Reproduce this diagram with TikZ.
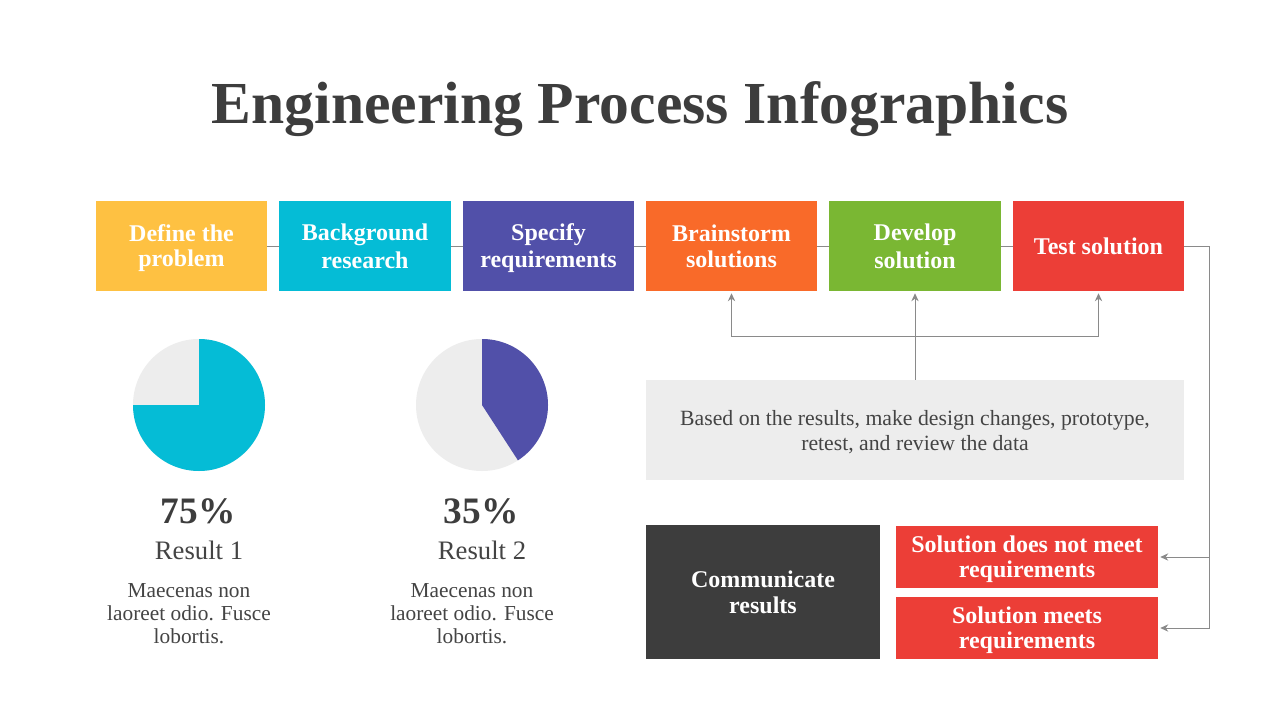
\documentclass[tikz,border=0pt]{standalone}
\usepackage{fontspec}
\setmainfont{Liberation Serif}
\usetikzlibrary{arrows.meta}
\definecolor{cyellow}{HTML}{FEC142}
\definecolor{ccyan}{HTML}{05BCD6}
\definecolor{cpurple}{HTML}{5150A9}
\definecolor{corange}{HTML}{F96A29}
\definecolor{cgreen}{HTML}{7AB733}
\definecolor{cred}{HTML}{EC3E37}
\definecolor{cdark}{HTML}{3D3D3D}
\definecolor{clight}{HTML}{EDEDED}
\definecolor{ctext}{HTML}{444444}
\definecolor{cline}{HTML}{8A8A8A}
% line struts (PowerPoint-like line boxes)
\newcommand\bxs{\rule[-3.4pt]{0pt}{19.2pt}}
\newcommand\txs{\rule[-2.25pt]{0pt}{16.5pt}}
\begin{document}
\begin{tikzpicture}[x=0.75pt,y=-0.75pt,
  boxfont/.style={text=white, font=\bfseries\fontsize{18}{19.2}\selectfont, align=center, inner sep=0pt},
  stepbox/.style={fill=#1, boxfont, minimum width=128.5pt, minimum height=67.5pt},
  redbox/.style={fill=cred, boxfont, minimum width=196.5pt, minimum height=46.5pt},
  conn/.style={draw=cline, line width=0.75pt},
  arr/.style={conn, -{Stealth[length=6pt,width=5.5pt]}, shorten >=1.5pt},
  pct/.style={font=\bfseries\fontsize{28}{30}\selectfont, text=cdark, anchor=base},
  res/.style={font=\fontsize{20}{24}\selectfont, text=ctext, anchor=base},
  body/.style={font=\fontsize{16}{16.3}\selectfont, text=ctext, align=center, inner sep=0pt}]
\useasboundingbox (0,0) rectangle (1280,720);
\fill[white] (0,0) rectangle (1280,720);

\node[font=\bfseries\fontsize{44.7}{50}\selectfont, text=cdark, anchor=base] (title) at (640,124) {Engineering Process Infographics};

% step boxes
\node[stepbox=cyellow] (b1) at (181.5,246) {\bxs Define the\\\bxs problem};
\node[stepbox=ccyan] (b2) at (365,246) {\bxs Background\\\bxs research};
\node[stepbox=cpurple] (b3) at (548.5,246) {\bxs Specify\\\bxs requirements};
\node[stepbox=corange] (b4) at (731.5,246) {\bxs Brainstorm\\\bxs solutions};
\node[stepbox=cgreen] (b5) at (915,246) {\bxs Develop\\\bxs solution};
\node[stepbox=cred] (b6) at (1098.5,246) {\bxs Test solution};

\draw[conn] (b1.east) -- (b2.west);
\draw[conn] (b2.east) -- (b3.west);
\draw[conn] (b3.east) -- (b4.west);
\draw[conn] (b4.east) -- (b5.west);
\draw[conn] (b5.east) -- (b6.west);

% feedback box
\node[fill=clight, text=ctext, font=\fontsize{16.3}{16.5}\selectfont, align=center, inner sep=0pt, minimum width=403.5pt, minimum height=75pt] (g) at (915,430) {\txs Based on the results, make design changes, prototype,\\\txs retest, and review the data};
\coordinate (j) at (915,336);
\draw[arr] (g.north) -- (b5.south);
\draw[arr] (j) -| (b4.south);
\draw[arr] (j) -| (b6.south);

% bottom boxes
\node[fill=cdark, boxfont, minimum width=175.5pt, minimum height=100.5pt] (comm) at (763,592) {\bxs Communicate\\\bxs results};
\node[redbox] (r1) at (1027,557) {\bxs Solution does not meet\\\bxs requirements};
\node[redbox] (r2) at (1027,628) {\bxs Solution meets\\\bxs requirements};
\draw[arr] (b6.east) -- ++(25,0) |- (r1.east);
\draw[arr] (b6.east) -- ++(25,0) |- (r2.east);

% pies
\fill[clight] (199,405) circle (66);
\fill[ccyan] (199,405) -- ++(-90:66) arc (-90:180:66) -- cycle;
\fill[clight] (482,405) circle (66);
\fill[cpurple] (482,405) -- ++(-90:66) arc (-90:57:66) -- cycle;

\node[pct] (p1) at (198,523) {75\%};
\node[res] (t1) at (199,559) {Result 1};
\node[body] (d1) at (189,612.5) {\txs Maecenas non\\\txs laoreet odio. Fusce\\\txs lobortis.};
\node[pct] (p2) at (481,523) {35\%};
\node[res] (t2) at (482,559) {Result 2};
\node[body] (d2) at (472,612.5) {\txs Maecenas non\\\txs laoreet odio. Fusce\\\txs lobortis.};
\end{tikzpicture}
\end{document}
